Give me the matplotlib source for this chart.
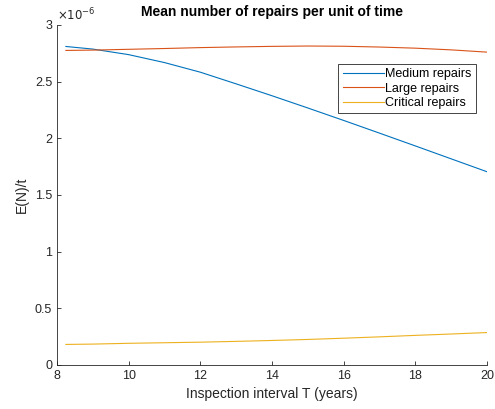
import numpy as np
import matplotlib
matplotlib.use("Agg")
import matplotlib.pyplot as plt

plt.rcParams['font.family'] = ['Liberation Sans', 'DejaVu Sans']

# inspection interval T (years)
T = [8.25, 9, 10, 11, 12, 13, 14, 15, 16, 17, 18, 19, 20]

# mean number of repairs per unit time, in units of 1e-6
medium = [2.81, 2.787, 2.738, 2.668, 2.583, 2.48, 2.375, 2.267, 2.157, 2.045, 1.932, 1.818, 1.704]
large = [2.775, 2.778, 2.785, 2.792, 2.80, 2.806, 2.811, 2.814, 2.812, 2.805, 2.795, 2.78, 2.76]
critical = [0.18, 0.183, 0.19, 0.195, 0.20, 0.207, 0.215, 0.224, 0.235, 0.247, 0.26, 0.272, 0.285]

labels = ['Medium repairs', 'Large repairs', 'Critical repairs']
colors = ['#0072BD', '#D95319', '#EDB120']

fig = plt.figure(figsize=(4.95, 4.09), dpi=100)
ax = fig.add_axes([0.115, 0.108, 0.869, 0.831])

for series, lab, c in zip([medium, large, critical], labels, colors):
    ax.plot(T, series, color=c, linewidth=0.8, label=lab)

ax.set_xlim(8, 20)
ax.set_ylim(0, 3)
ax.set_xticks([8, 10, 12, 14, 16, 18, 20])
ax.set_yticks([0, 0.5, 1, 1.5, 2, 2.5, 3])
ax.set_yticklabels(['0', '0.5', '1', '1.5', '2', '2.5', '3'])

for s in ['top', 'right']:
    ax.spines[s].set_visible(False)
for s in ['left', 'bottom']:
    ax.spines[s].set_color('#262626')
    ax.spines[s].set_linewidth(0.6)
ax.tick_params(direction='in', length=3, width=0.6, colors='#262626', labelsize=9)

ax.text(0.0, 1.005, r'$\times10^{-6}$', transform=ax.transAxes, fontsize=8.5,
        color='#262626', ha='left', va='bottom')

ax.set_title('Mean number of repairs per unit of time', fontsize=10,
             fontweight='bold', pad=6.5)
ax.set_xlabel('Inspection interval T (years)', fontsize=10, color='#262626')
ax.set_ylabel('E(N)/t', fontsize=10, color='#262626')

leg = ax.legend(loc='upper right', bbox_to_anchor=(0.974, 0.886), fontsize=9,
                fancybox=False, framealpha=1, edgecolor='#262626',
                handlelength=3.3, handletextpad=0.1, borderpad=0.35,
                labelspacing=0.2, borderaxespad=0)
leg.get_frame().set_linewidth(0.6)

fig.savefig('out.png', dpi=100)
